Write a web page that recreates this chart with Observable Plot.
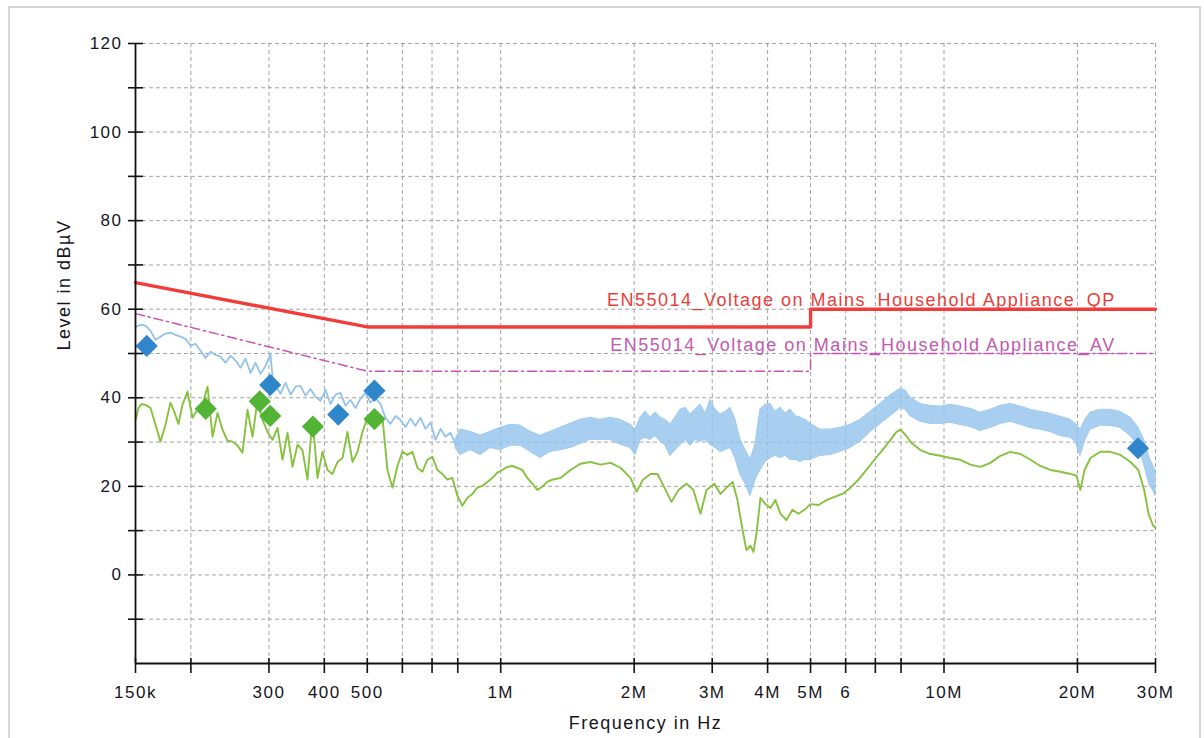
<!DOCTYPE html>
<html><head><meta charset="utf-8">
<script src="https://cdn.jsdelivr.net/npm/d3@7"></script>
<script src="https://cdn.jsdelivr.net/npm/@observablehq/plot@0.6"></script>
<style>
html,body{margin:0;padding:0;background:#fff;overflow:hidden;}
#wrap{position:relative;width:1204px;height:738px;}
#wrap svg{position:absolute;left:0;top:0;}
#frame{position:absolute;left:8px;top:6px;width:1193px;height:745px;border:2px solid #d6d6d6;box-sizing:border-box;pointer-events:none;}
</style></head><body><div id="wrap"><div id="frame"></div></div>
<script>
// ---- axis definitions ----
const xDomain = [0.15, 30];           // MHz
const yDomain = [-20, 120];           // dBµV
const xTicks = [0.15,0.2,0.3,0.4,0.5,0.6,0.7,0.8,1,2,3,4,5,6,7,8,10,20,30];
const xTickText = ["150k","","300","400","500","","","800","1M","2M","3M","4M","5M","6","","8","10M","20M","30M"];
const yTicks = [-10,0,10,20,30,40,50,60,70,80,90,100,110,120];
const yLabelTicks = [0,20,40,60,80,100,120];
const xTitle = "Frequency in Hz";
const yTitle = "Level in dBµV";

// ---- limit lines ----
const qpFreq = [0.15, 0.5, 5, 5, 30];
const qpLevel = [66, 56, 56, 60, 60];
const avFreq = [0.15, 0.5, 5, 5, 30];
const avLevel = [59, 46, 46, 50, 50];
const limitText = ["EN55014_Voltage on Mains_Household Appliance_QP", "EN55014_Voltage on Mains_Household Appliance_AV"];
const limitTextFreq = [24.4, 24.4];
const limitTextLevel = [60, 50];

// ---- peak trace (blue), low-frequency part ----
const blueLineFreq = [0.150,0.1539,0.158,0.1622,0.1664,0.1708,0.1753,0.1799,0.1846,0.1895,0.1945,0.1996,0.2048,0.2103,0.2158,0.2215,0.2273,0.2333,0.2394,0.2457,0.2522,0.2588,0.2656,0.2726,0.2798,0.2871,0.2947,0.3024,0.3071,0.3104,0.3185,0.3269,0.3356,0.3444,0.3534,0.3627,0.3723,0.3821,0.3921,0.4024,0.4130,0.4239,0.4350,0.4465,0.4582,0.4703,0.4827,0.4954,0.5083,0.5217,0.5355,0.5495,0.5639,0.5788,0.5940,0.6096,0.6257,0.6421,0.6591,0.6764,0.6944,0.7126,0.7313,0.7506,0.7703,0.7906];
const blueLineLevel = [56.0,56.5,56.3,55.1,53.1,53.8,54.5,54.7,54.2,53.8,53.3,51.8,52.2,50.6,49.0,50.4,49.7,49.3,47.9,49.5,48.4,46.8,48.8,45.6,47.9,45.4,47.2,49.9,42.5,42.7,40.9,43.4,40.7,42.5,42.7,40.5,42.0,40.2,39.3,41.8,38.6,40.7,41.1,38.2,39.5,37.7,39.8,41.1,38.9,40.0,38.6,35.5,34.1,35.9,35.0,33.4,35.3,33.7,35.5,33.0,34.4,30.5,33.0,31.2,32.1,29.6];

// ---- peak trace (blue), dense part read as upper / lower envelope ----
const bandFreq = [0.7906,0.8114,0.8547,0.9004,0.9482,0.9987,1.0518,1.1080,1.1671,1.2293,1.295,1.364,1.437,1.513,1.594,1.679,1.769,1.863,1.962,2.014,2.067,2.121,2.177,2.234,2.293,2.353,2.415,2.479,2.544,2.611,2.680,2.750,2.822,2.897,2.973,3.051,3.131,3.213,3.298,3.384,3.474,3.565,3.659,3.755,3.854,3.955,4.059,4.166,4.277,4.389,4.504,4.622,4.745,4.869,4.998,5.263,5.544,5.839,6.151,6.478,6.825,7.189,7.572,7.976,8.186,8.401,8.849,9.322,9.818,10.34,10.89,11.47,12.08,12.73,13.41,14.12,14.88,15.67,16.50,17.38,18.31,19.29,19.80,20.31,20.85,21.40,22.53,23.74,25.00,26.34,27.45,28.28,29.10,29.75,30.0];
const bandHi = [30.5,32.8,32.3,31.4,32.3,33.2,33.9,33.7,32.3,31.4,32.3,33.2,34.1,35.0,35.5,35.0,35.5,35.0,33.9,32.8,35.5,36.8,35.5,36.6,35.5,35.0,33.9,35.5,37.3,37.7,36.2,37.3,38.4,36.4,39.5,37.3,36.2,36.8,37.7,35.0,30.5,28.2,26.0,29.4,37.3,38.4,38.6,36.8,37.7,36.4,37.3,35.9,35.5,35.0,34.1,32.8,32.8,33.2,33.9,35.0,36.8,38.6,40.5,42.0,41.6,40.0,38.6,38.2,38.0,38.4,38.0,37.5,36.6,37.3,38.2,38.6,38.0,37.3,36.8,36.4,35.7,35.0,34.1,32.8,35.0,36.6,37.3,37.3,36.8,35.5,33.2,30.5,26.4,24.2,23.3];
const bandLo = [28.7,27.1,28.2,27.1,28.7,28.2,29.2,29.2,27.8,26.4,27.8,28.2,28.7,29.6,30.5,30.5,30.5,29.4,28.7,27.1,30.5,31.0,30.5,31.4,30.1,29.2,26.9,28.2,29.4,30.5,29.2,30.5,30.1,30.5,29.4,28.7,27.8,28.2,28.7,26.4,22.6,20.6,17.9,21.5,23.7,25.5,26.4,26.9,26.4,26.9,26.0,26.0,25.5,26.0,26.0,26.9,27.1,27.8,28.7,30.1,32.3,34.1,35.9,37.7,37.3,35.9,34.6,34.1,34.1,34.4,33.9,33.4,32.5,33.2,34.1,34.6,33.9,33.2,32.8,32.3,31.4,31.0,30.1,26.9,30.5,32.8,33.7,33.7,33.2,31.4,29.2,24.9,20.3,18.8,17.9];

// ---- average trace (green) ----
const greenFreq = [0.1500,0.1524,0.1547,0.1580,0.1622,0.1664,0.1708,0.1753,0.1799,0.1836,0.1875,0.1914,0.1965,0.2017,0.2070,0.2125,0.2181,0.2238,0.2297,0.2357,0.2419,0.2483,0.2548,0.2615,0.2684,0.2755,0.2827,0.2902,0.2978,0.3056,0.3137,0.3219,0.3304,0.3391,0.3480,0.3571,0.3665,0.3762,0.3861,0.3962,0.4066,0.4173,0.4283,0.4396,0.4511,0.4630,0.4751,0.4876,0.5005,0.5136,0.5271,0.5410,0.5552,0.5698,0.5848,0.6001,0.6159,0.6321,0.6487,0.6657,0.6832,0.7012,0.7196,0.7385,0.7579,0.7778,0.7983,0.8193,0.8408,0.8629,0.8856,0.9089,0.9328,0.9573,0.9825,1.0083,1.0348,1.0620,1.0899,1.1186,1.1480,1.1782,1.2091,1.2409,1.2735,1.3070,1.364,1.437,1.513,1.594,1.679,1.769,1.863,1.962,2.026,2.093,2.177,2.258,2.341,2.428,2.517,2.625,2.721,2.822,2.912,3.033,3.131,3.231,3.336,3.420,3.511,3.584,3.659,3.717,3.775,3.854,3.955,4.059,4.166,4.277,4.411,4.551,4.695,4.844,4.998,5.210,5.432,5.661,5.900,6.151,6.411,6.683,6.967,7.262,7.572,7.813,7.976,8.186,8.484,8.849,9.322,9.818,10.34,10.89,11.47,12.08,12.73,13.41,14.12,14.88,15.67,16.50,17.38,18.31,19.29,19.90,20.31,20.75,21.40,22.53,23.74,25.00,26.34,27.45,28.28,28.96,29.65,30.0];
const greenLevel = [35.0,37.7,38.6,38.4,37.7,33.9,30.1,33.9,38.9,36.8,34.1,38.4,41.4,35.5,37.3,38.6,42.5,31.2,36.6,32.8,30.3,30.1,29.2,27.6,37.3,31.2,39.5,35.0,32.3,30.5,33.2,26.0,32.1,24.4,29.4,28.2,21.5,35.5,21.9,27.8,23.7,22.8,25.5,26.4,32.3,25.5,27.8,32.3,35.5,35.9,36.2,35.5,23.7,19.7,24.6,27.8,27.1,27.8,24.2,23.3,26.0,26.7,23.7,22.8,21.5,21.9,17.9,15.6,17.4,18.3,19.7,20.1,21.0,21.9,23.1,23.7,24.4,24.6,24.2,23.7,21.9,20.6,19.2,19.9,21.0,21.5,21.9,23.7,25.1,25.5,24.9,25.3,24.2,21.9,18.8,21.5,22.8,22.8,19.7,16.5,19.2,20.6,19.2,13.8,19.2,20.6,18.3,19.7,21.0,16.9,10.2,5.6,6.6,5.2,9.3,17.4,16.0,15.1,16.9,13.8,12.4,14.7,13.8,14.7,16.0,15.8,16.9,17.6,18.3,19.7,21.5,23.7,26.0,28.2,30.5,32.3,32.8,31.6,29.6,28.2,27.3,26.9,26.4,26.0,24.9,24.4,25.3,26.9,27.8,27.3,26.0,24.6,23.7,23.3,22.8,22.4,19.2,23.7,26.4,27.8,27.8,27.1,25.5,23.7,19.2,13.6,11.1,10.6];

// ---- final measurement markers ----
const peakMarkFreq = [0.159, 0.302, 0.430, 0.519, 27.4];
const peakMarkLevel = [51.7, 42.9, 36.2, 41.6, 28.6];
const avgMarkFreq = [0.216, 0.286, 0.302, 0.377, 0.519];
const avgMarkLevel = [37.5, 39.2, 35.9, 33.5, 35.2];

// ---- build tables ----
const toRows = (fs, vs) => fs.map((f, i) => ({f, v: vs[i]}));
const qp = toRows(qpFreq, qpLevel);
const av = toRows(avFreq, avLevel);
const blueLine = toRows(blueLineFreq, blueLineLevel);
const band = bandFreq.map((f, i) => ({f, hi: bandHi[i], lo: bandLo[i]}));
const green = toRows(greenFreq, greenLevel);
const peakMarks = toRows(peakMarkFreq, peakMarkLevel);
const avgMarks = toRows(avgMarkFreq, avgMarkLevel);
const limitLabels = limitText.map((t, i) => ({t, f: limitTextFreq[i], v: limitTextLevel[i]}));
const tickLabel = new Map(xTicks.map((d, i) => [d, xTickText[i]]));

const blueTrace = "#93c3ec";
const greenTrace = "#86c13f";
const gridColor = "#9a9a9a";
const ink = "#15151f";

const chart = Plot.plot({
  width: 1204,
  height: 738,
  marginLeft: 135,
  marginRight: 49,
  marginTop: 43,
  marginBottom: 75,
  style: {fontFamily: "'Liberation Sans', Arial, sans-serif", fontSize: "17px", letterSpacing: "1.5px", color: ink, background: "transparent"},
  x: {type: "log", domain: xDomain, label: null},
  y: {domain: yDomain, label: null},
  marks: [
    Plot.gridY(yTicks, {stroke: gridColor, strokeOpacity: 0.9, strokeDasharray: "4,3"}),
    Plot.gridX(xTicks.slice(1), {stroke: gridColor, strokeOpacity: 0.9, strokeDasharray: "4,3"}),
    Plot.areaY(band, {x: "f", y1: "lo", y2: "hi", fill: blueTrace, fillOpacity: 0.8, stroke: "#a3cdf0", strokeWidth: 1.2}),
    Plot.line(blueLine, {x: "f", y: "v", stroke: blueTrace, strokeWidth: 1.8}),
    Plot.line(green, {x: "f", y: "v", stroke: greenTrace, strokeWidth: 1.9}),
    Plot.line(qp, {x: "f", y: "v", stroke: "#f23c3c", strokeWidth: 3.4}),
    Plot.line(av, {x: "f", y: "v", stroke: "#cc50b4", strokeWidth: 1.5, strokeDasharray: "9,4,2,4"}),
    Plot.dot(peakMarks, {x: "f", y: "v", symbol: "diamond2", r: 10, fill: "#2f86cb", stroke: "none"}),
    Plot.dot(avgMarks, {x: "f", y: "v", symbol: "diamond2", r: 10, fill: "#52b435", stroke: "none"}),
    Plot.text(limitLabels, {x: "f", y: "v", text: "t", textAnchor: "end", lineAnchor: "bottom", dy: -3, fontSize: 18,
      fill: (d, i) => i === 0 ? "#e83e3a" : "#c25aae"}),
    Plot.ruleX([xDomain[0]], {stroke: "#111", strokeWidth: 1.8}),
    Plot.ruleY([yDomain[0]], {stroke: "#111", strokeWidth: 1.8}),
    Plot.axisY(yTicks, {anchor: "left", tickSize: 15, dx: 8, fill: "none", stroke: "#111", strokeWidth: 1.6, label: null}),
    Plot.axisY(yLabelTicks, {anchor: "left", tickSize: 0, tickPadding: 13, stroke: "none", fill: ink, fontSize: 17, label: null}),
    Plot.axisX(xTicks, {anchor: "bottom", tickSize: 15, dy: -5, fill: "none", stroke: "#111", strokeWidth: 1.6, label: null}),
    Plot.axisX(xTicks, {anchor: "bottom", tickSize: 0, tickPadding: 22, stroke: "none", fill: ink, fontSize: 17, label: null,
      tickFormat: d => tickLabel.get(d)}),
    Plot.text([xTitle], {frameAnchor: "bottom", dy: 65, text: d => d, fontSize: 18, fill: ink}),
    Plot.text([yTitle], {frameAnchor: "left", dx: -71, dy: -3, rotate: -90, text: d => d, fontSize: 18, fill: ink})
  ]
});
document.getElementById("wrap").prepend(chart);
</script>
</body></html>
